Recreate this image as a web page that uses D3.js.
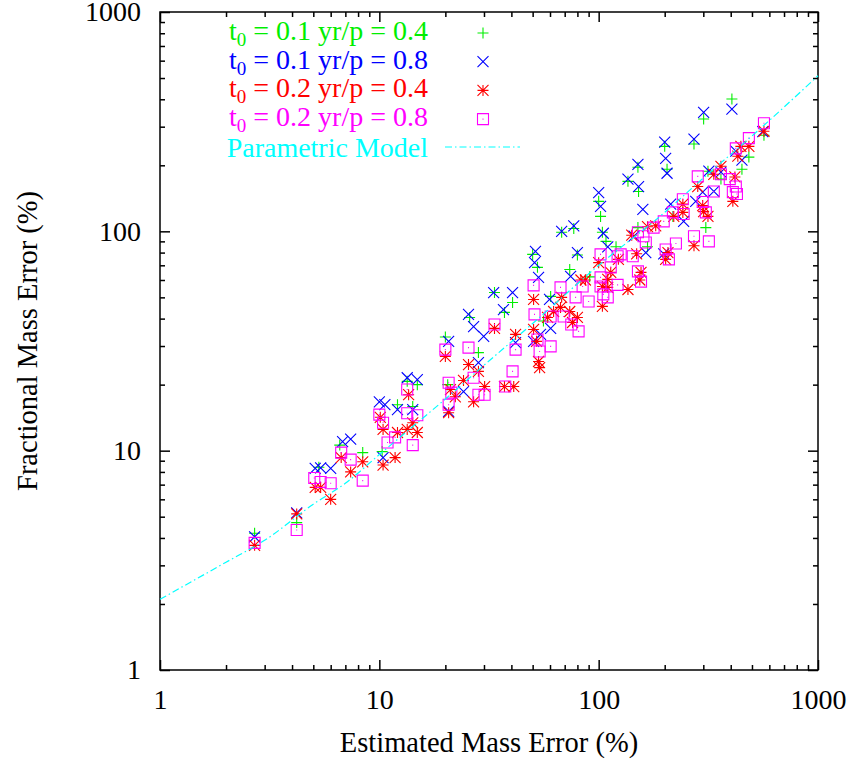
<!DOCTYPE html>
<html>
<head>
<meta charset="utf-8">
<script src="https://cdn.jsdelivr.net/npm/d3@7"></script>
<style>
body { margin: 0; background: #fff; }
text { font-family: "Liberation Serif", "Times New Roman", serif; }
</style>
</head>
<body>
<script>
// t0 = 0.1 yr, p = 0.4  (green +)
const green = [
  [2.7,4.2],[4.2,4.7],[5.3,8.4],[6.6,10.6],[8.4,9.8],[10.3,9.9],[12.1,16.2],[14.2,15.9],[13.4,20.7],[14.9,20],
  [20,33],[20.5,20],[25.8,40.5],[28.3,28],[33.5,52.6],[40.5,47.4],[37.2,42.7],[50,78.5],[52.6,68.5],[56,39],
  [60.4,50.5],[73.8,67],[67.8,99],[77,103],[80,78],[91,62],[100,137],[102,117],[104,99],[108,90],
  [120,85],[151,104],[167,85],[151,196],[136,169],[152,152],[200,244],[205,192],[218,117],[272,250],
  [301,325],[405,401],[567,274],[484,218],[450,192],[315,188],[361,173],[308,104]
]
// t0 = 0.1 yr, p = 0.8  (blue x)
const blue = [
  [2.7,4.05],[4.2,5.2],[5.1,8.3],[5.4,8.35],[6.0,8.3],[6.8,11.0],[7.4,11.3],[10,16.7],[10.6,16.2],[10.4,9.3],
  [12.1,15.4],[13.4,21.5],[14.9,21.1],[14.2,15.4],[20.7,31.5],[20.7,15.1],[24.2,18.6],[25.5,41.8],[26.9,36.8],[29.9,33.2],
  [28.3,25.2],[33.2,52.6],[40.5,52.6],[36.8,44],[41.8,31.1],[51.5,81],[51,72],[53.2,61.7],[59.7,48.9],[74.5,62.3],
  [50.5,31.5],[54.3,33.9],[60.4,36.1],[67.8,100],[77,106],[80,80],[100,150],[102,130],[105,98],[110,85],
  [151,202],[136,173],[152,160],[200,255],[202,215],[205,184],[272,263],[301,349],[405,361],[159,126],
  [422,232],[450,211],[361,186],[318,188],[335,152],[298,151],[277,137],[244,111],[213,133],[145,95],
  [164,80],[198,79],[560,285]
]
// t0 = 0.2 yr, p = 0.4  (red *)
const red = [
  [2.7,3.7],[4.2,5.15],[5.1,6.8],[5.4,6.8],[6.0,6.0],[6.7,9.3],[7.4,8.0],[8.4,8.9],[10.1,14.2],[10.4,12.5],
  [10.4,8.6],[12.1,12.1],[11.8,9.3],[13.4,12.5],[14.2,13.4],[14.9,12.1],[13.6,18],[20,26.9],[21.1,19],[22.2,17.6],
  [20.7,14.9],[25.5,24.7],[28.3,23],[24.2,20.9],[30.2,19.6],[26.9,16.7],[33.5,36.1],[41.8,33.9],[41,19.6],[37.2,19.6],
  [50.5,48.9],[67.8,50],[53.2,25.5],[53.8,23.9],[52.1,31.5],[50.5,35.7],[62.3,43.1],[58.5,40.5],[67,45],[73.8,43.1],
  [80,40.5],[76,38.4],[87,60],[83,60],[100,72],[104,56],[110,55.5],[104,45.5],[113.5,65],[123,74.5],[110,60.4],
  [136,54.3],[156,65],[154,60],[149,79],[141.5,96],[167,105],[182,106],[220,117],[242,133],[242,122],
  [207,80],[202,74.5],[272,86],[301,123],[315,117],[298,131],[283,160],[335,182],[361,198],[418,177],
  [409,137],[445,244],[484,244],[431,220],[567,286]
]
// t0 = 0.2 yr, p = 0.8  (magenta box)
const magenta = [
  [2.7,3.8],[4.2,4.35],[5.05,7.5],[5.4,7.2],[6.0,7.1],[6.7,9.8],[7.4,9.1],[8.4,7.3],[10,14.6],[10.4,13.4],
  [10.9,10.9],[11.8,11.5],[13.4,19],[13.4,14.8],[14.9,14.5],[14.2,10.6],[20,28.9],[20.7,20.4],[21.3,18.4],[20.7,16.2],
  [25.5,29.5],[26.9,21.5],[28.3,18],[30.2,18],[33.5,37.6],[41.8,28.9],[40.5,23],[37.5,19.6],[50.5,56.7],[67,55.5],
  [51,41.8],[60.4,40.9],[69.2,40.9],[52.6,32.1],[60.4,29.9],[53.8,28.3],[75,37.6],[81,35],[78.5,50],[84.5,56],
  [90,47.9],[102,78.5],[102,61.7],[105,51.6],[102,56],[110,50],[122,77],[113.5,68.5],[122,57],[126,78.5],
  [143,77],[151,65.7],[156,59],[151,99],[160,95],[164,89],[178,104],[198,111],[202,82.7],[209,74.5],
  [225,88],[218,122],[242,140],[244,120],[272,95],[318,90],[308,122],[298,136],[283,178],[335,152],
  [361,182],[396,173],[422,160],[409,151],[427,148],[422,239],[484,266],[567,311]
]
// parametric model
const modelX = [1, 2, 3, 5, 7, 10, 20, 30, 50, 100, 200, 300, 500, 1000]
const modelY = [2.1, 3.1, 3.9, 5.7, 7.1, 9.6, 17.2, 24.5, 38, 70, 122, 175, 272, 512]

const majorTicks = [1, 10, 100, 1000]
const legendLabels = [
  ["0.1", "0.4"], ["0.1", "0.8"], ["0.2", "0.4"], ["0.2", "0.8"]
]

var width = 851, height = 760
var plot = {left: 160, right: 818, top: 12, bottom: 670}

var svg = d3.select("body").append("svg")
    .attr("width", width)
    .attr("height", height)

var x = d3.scaleLog().domain([1, 1000]).range([plot.left, plot.right])
var y = d3.scaleLog().domain([1, 1000]).range([plot.bottom, plot.top])

var minorX = x.ticks().filter(d => majorTicks.indexOf(d) < 0)
var minorY = y.ticks().filter(d => majorTicks.indexOf(d) < 0)

function styleAxis(g) {
  g.select(".domain").remove()
  g.selectAll(".tick line").attr("stroke", "#000").attr("stroke-width", 1.5)
  g.selectAll("text").attr("fill", "#000").style("font-size", "28px")
    .style("font-family", '"Liberation Serif", serif')
}

// bottom + top
svg.append("g").attr("transform", "translate(0," + plot.bottom + ")")
  .call(d3.axisBottom(x).tickValues(majorTicks).tickSize(-10).tickPadding(19).tickFormat(d3.format("d")))
  .call(styleAxis)
svg.append("g").attr("transform", "translate(0," + plot.bottom + ")")
  .call(d3.axisBottom(x).tickValues(minorX).tickSize(-5).tickFormat(""))
  .call(styleAxis)
svg.append("g").attr("transform", "translate(0," + plot.top + ")")
  .call(d3.axisTop(x).tickValues(majorTicks).tickSize(-10).tickFormat(""))
  .call(styleAxis)
svg.append("g").attr("transform", "translate(0," + plot.top + ")")
  .call(d3.axisTop(x).tickValues(minorX).tickSize(-5).tickFormat(""))
  .call(styleAxis)

// left + right
svg.append("g").attr("transform", "translate(" + plot.left + ",0)")
  .call(d3.axisLeft(y).tickValues(majorTicks).tickSize(-10).tickPadding(19).tickFormat(d3.format("d")))
  .call(styleAxis)
svg.append("g").attr("transform", "translate(" + plot.left + ",0)")
  .call(d3.axisLeft(y).tickValues(minorY).tickSize(-5).tickFormat(""))
  .call(styleAxis)
svg.append("g").attr("transform", "translate(" + plot.right + ",0)")
  .call(d3.axisRight(y).tickValues(majorTicks).tickSize(-10).tickFormat(""))
  .call(styleAxis)
svg.append("g").attr("transform", "translate(" + plot.right + ",0)")
  .call(d3.axisRight(y).tickValues(minorY).tickSize(-5).tickFormat(""))
  .call(styleAxis)

svg.append("rect")
  .attr("x", plot.left).attr("y", plot.top)
  .attr("width", plot.right - plot.left).attr("height", plot.bottom - plot.top)
  .attr("fill", "none").attr("stroke", "#000").attr("stroke-width", 1.5)

// axis titles
svg.append("text")
  .attr("x", (plot.left + plot.right) / 2).attr("y", 752)
  .attr("text-anchor", "middle").style("font-size", "28.5px")
  .text("Estimated Mass Error (%)")
svg.append("text")
  .attr("transform", "translate(37," + (plot.top + plot.bottom) / 2 + ") rotate(-90)")
  .attr("text-anchor", "middle").style("font-size", "28.5px")
  .text("Fractional Mass Error (%)")

// point symbols
var s = 5.5
var symbols = {
  plus:  "M" + (-s) + ",0H" + s + "M0," + (-s) + "V" + s,
  cross: "M" + (-s) + "," + (-s) + "L" + s + "," + s + "M" + (-s) + "," + s + "L" + s + "," + (-s),
  star:  "M" + (-s) + ",0H" + s + "M0," + (-s) + "V" + s +
         "M" + (-s) + "," + (-s) + "L" + s + "," + s + "M" + (-s) + "," + s + "L" + s + "," + (-s),
  box:   "M" + (-s) + "," + (-s) + "H" + s + "V" + s + "H" + (-s) + "Z M-0.5,0H0.5"
}

var series = [
  {data: green,   color: "#00ee00", sym: "plus"},
  {data: blue,    color: "#0000ff", sym: "cross"},
  {data: red,     color: "#ff0000", sym: "star"},
  {data: magenta, color: "#ff00ff", sym: "box"}
]

series.forEach(function(ser) {
  svg.append("g").selectAll("path")
    .data(ser.data)
    .join("path")
      .attr("transform", d => "translate(" + x(d[0]) + "," + y(d[1]) + ")")
      .attr("d", symbols[ser.sym])
      .attr("fill", "none")
      .attr("stroke", ser.color)
      .attr("stroke-width", 1.1)
})

// model curve
var modelPts = modelX.map((d, i) => [d, modelY[i]])
var linea = d3.line()
  .x(d => x(d[0]))
  .y(d => y(d[1]))
  .curve(d3.curveMonotoneX)
svg.append("path")
  .datum(modelPts)
  .attr("fill", "none")
  .attr("stroke", "#00ffff")
  .attr("stroke-width", 1.2)
  .attr("stroke-dasharray", "7,3,1.5,3")
  .attr("d", linea)

// legend
var legColors = ["#00ee00", "#0000ff", "#ff0000", "#ff00ff"]
var legSyms = ["plus", "cross", "star", "box"]
legendLabels.forEach(function(l, i) {
  var t = svg.append("text")
    .attr("x", 428).attr("y", 40 + i * 28.7)
    .attr("text-anchor", "end")
    .attr("fill", legColors[i])
    .style("font-size", "28px")
  t.append("tspan").text("t")
  t.append("tspan").attr("dy", 6).style("font-size", "19px").text("0")
  t.append("tspan").attr("dy", -6).text(" = " + l[0] + " yr/p = " + l[1])
  svg.append("path")
    .attr("transform", "translate(483," + (33 + i * 28.7) + ")")
    .attr("d", symbols[legSyms[i]])
    .attr("fill", "none").attr("stroke", legColors[i]).attr("stroke-width", 1.1)
})
svg.append("text")
  .attr("x", 428).attr("y", 157)
  .attr("text-anchor", "end")
  .attr("fill", "#00ffff")
  .style("font-size", "28px")
  .text("Parametric Model")
svg.append("line")
  .attr("x1", 445).attr("x2", 520).attr("y1", 147).attr("y2", 147)
  .attr("stroke", "#00ffff").attr("stroke-width", 1.2)
  .attr("stroke-dasharray", "7,3,1.5,3")
</script>
</body>
</html>
